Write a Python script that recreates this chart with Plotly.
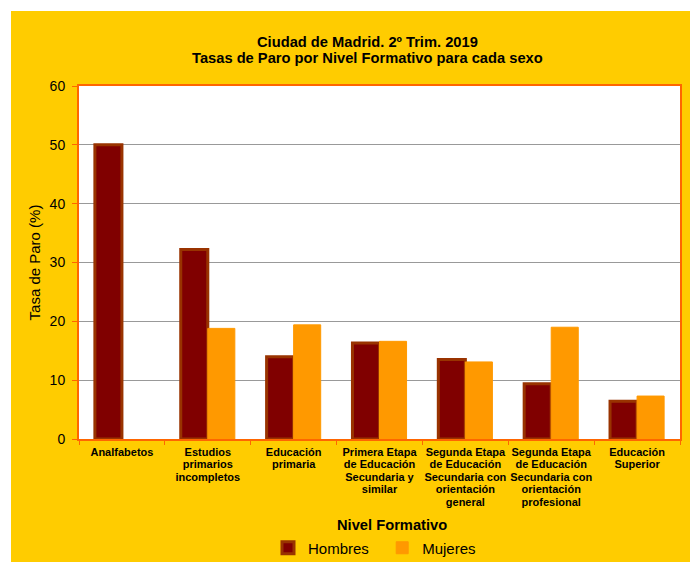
import plotly.graph_objects as go

categorias = [
    "Analfabetos",
    "Estudios<br>primarios<br>incompletos",
    "Educación<br>primaria",
    "Primera Etapa<br>de Educación<br>Secundaria y<br>similar",
    "Segunda Etapa<br>de Educación<br>Secundaria con<br>orientación<br>general",
    "Segunda Etapa<br>de Educación<br>Secundaria con<br>orientación<br>profesional",
    "Educación<br>Superior",
]
hombres = [50.0, 32.2, 14.0, 16.3, 13.5, 9.4, 6.4]
mujeres = [None, 18.8, 19.4, 16.6, 13.1, 19.0, 7.3]

FONT = "Liberation Sans, Arial, sans-serif"

# figure geometry (figure is placed at 8px page offset)
W, H = 690, 554
L, T = 71, 78
PW, PH = 601, 353
R, B = W - L - PW, H - T - PH


def py(fy):
    return (T + PH - fy) / PH


def px(fx):
    return (fx - L) / PW


fig = go.Figure()
fig.add_trace(go.Bar(
    x=categorias, y=hombres, name="Hombres" + "\u00a0" * 2,
    marker=dict(color="#800000", line=dict(color="#993300", width=3)),
))
fig.add_trace(go.Bar(
    x=categorias, y=mujeres, name="Mujeres",
    marker=dict(color="#FF9900", line=dict(color="#FF9900", width=1)),
))

# thin white strips at top/left of the page
fig.add_shape(type="rect", xref="paper", yref="paper",
              x0=px(-2), x1=px(3), y0=py(H + 2), y1=py(-2),
              fillcolor="white", line=dict(width=0), layer="below")
fig.add_shape(type="rect", xref="paper", yref="paper",
              x0=px(-2), x1=px(W + 2), y0=py(3), y1=py(-2),
              fillcolor="white", line=dict(width=0), layer="below")

fig.add_annotation(text="<b>Ciudad de Madrid. 2º Trim. 2019</b>",
                   xref="paper", yref="paper", x=px(359), y=py(34),
                   xanchor="center", yanchor="middle", showarrow=False,
                   font=dict(size=14.7, family=FONT, color="black"))
fig.add_annotation(text="<b>Tasas de Paro por Nivel Formativo para cada sexo</b>",
                   xref="paper", yref="paper", x=px(359), y=py(50),
                   xanchor="center", yanchor="middle", showarrow=False,
                   font=dict(size=14.7, family=FONT, color="black"))
fig.add_annotation(text="<b>Nivel Formativo</b>",
                   xref="paper", yref="paper", x=px(384), y=py(517),
                   xanchor="center", yanchor="middle", showarrow=False,
                   font=dict(size=14.7, family=FONT, color="black"))

fig.update_layout(
    width=W, height=H,
    margin=dict(l=L, r=R, t=T, b=B, autoexpand=False),
    paper_bgcolor="#FFCC00",
    plot_bgcolor="white",
    font=dict(family=FONT, color="black", size=13),
    barmode="group",
    bargap=0.37,
    bargroupgap=0,
    xaxis=dict(
        tickfont=dict(size=9.7, family=FONT),
        tickprefix="<b><span style='font-size:11px'>", ticksuffix="</span></b>",
        showline=True, linecolor="#FF6600", linewidth=2, mirror=True,
        ticks="outside", tickson="boundaries", ticklen=4, tickcolor="#FF6600",
        ticklabelstandoff=3,
        showgrid=False,
        tickangle=0,
    ),
    yaxis=dict(
        title=dict(text="Tasa de Paro (%)", font=dict(size=15), standoff=5),
        range=[0, 60], dtick=10,
        tickfont=dict(size=14),
        showline=True, linecolor="#FF6600", linewidth=2, mirror=True,
        ticks="outside", ticklen=5, tickcolor="#FF6600",
        ticklabelstandoff=4,
        showgrid=True, gridcolor="#999999", gridwidth=1,
        zeroline=False,
    ),
    legend=dict(
        orientation="h", x=px(260), xanchor="left",
        y=py(540), yanchor="middle",
        font=dict(size=15), bgcolor="rgba(0,0,0,0)",
        itemwidth=30, traceorder="normal",
    ),
)

fig.write_html("out.html")
